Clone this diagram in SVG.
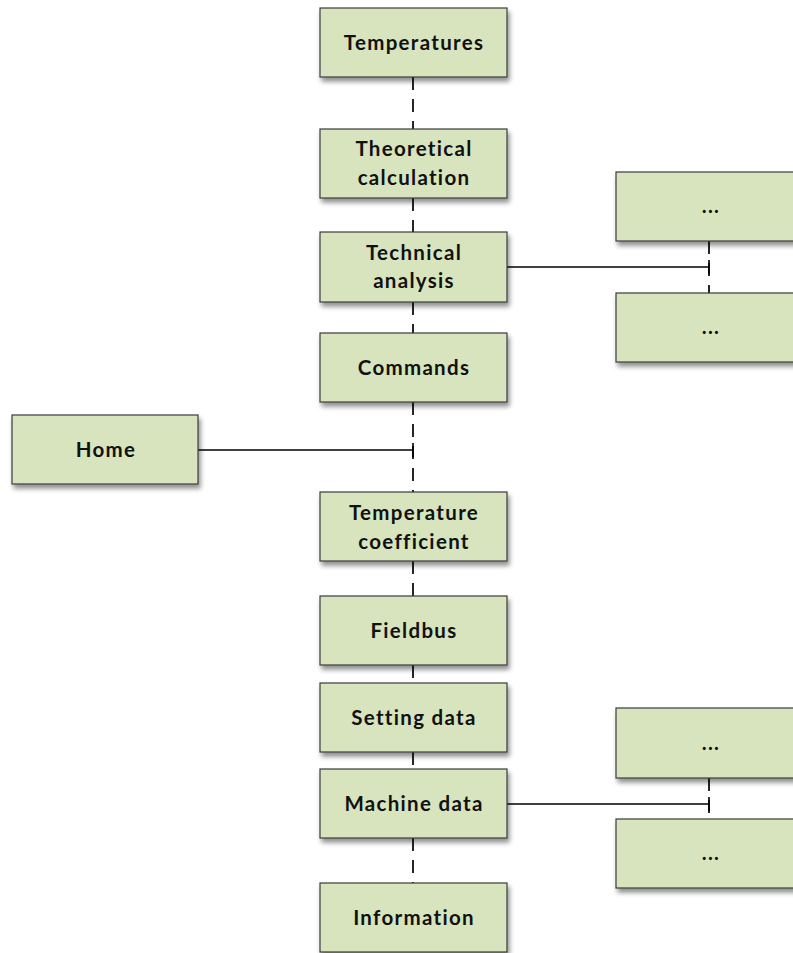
<svg xmlns="http://www.w3.org/2000/svg" width="793" height="953" viewBox="0 0 793 953">
<defs>
<filter id="sh" x="-10%" y="-20%" width="125%" height="160%">
<feGaussianBlur in="SourceAlpha" stdDeviation="2.5"/>
<feOffset dx="2" dy="4" result="b"/>
<feComponentTransfer><feFuncA type="linear" slope="0.45"/></feComponentTransfer>
<feMerge><feMergeNode/><feMergeNode in="SourceGraphic"/></feMerge>
</filter>
<style>
.box{fill:#d7e4bd;stroke:#3b3b3b;stroke-width:1.2;filter:url(#sh)}
.t{font-family:Lato,"Open Sans","Liberation Sans",sans-serif;font-weight:700;font-size:20.5px;letter-spacing:1.3px;fill:#111;text-anchor:middle}
.dash{stroke:#000;stroke-width:1.7;fill:none;stroke-dasharray:13 9}
.solid{stroke:#000;stroke-width:1.6;fill:none}
</style>
</defs>
<rect width="793" height="953" fill="#fff"/>
<g id="connectors">
<line class="dash" x1="413" y1="77" x2="413" y2="129"/>
<line class="dash" x1="413" y1="198" x2="413" y2="232"/>
<line class="dash" x1="413" y1="302" x2="413" y2="333"/>
<line class="dash" x1="413" y1="402" x2="413" y2="492"/>
<line class="dash" x1="413" y1="561" x2="413" y2="596"/>
<line class="dash" x1="413" y1="665" x2="413" y2="683"/>
<line class="dash" x1="413" y1="752" x2="413" y2="769"/>
<line class="dash" x1="413" y1="838" x2="413" y2="883"/>
<line class="solid" x1="198" y1="450" x2="413" y2="450"/>
<line class="solid" x1="413" y1="443" x2="413" y2="457"/>
<line class="solid" x1="507" y1="267" x2="709" y2="267"/>
<line class="solid" x1="709" y1="260" x2="709" y2="274"/>
<line class="dash" x1="709" y1="241" x2="709" y2="293"/>
<line class="solid" x1="507" y1="804" x2="709" y2="804"/>
<line class="solid" x1="709" y1="797" x2="709" y2="811"/>
<line class="dash" x1="709" y1="778" x2="709" y2="819"/>
</g>
<g id="n-temperatures"><rect class="box" x="320" y="8" width="187" height="69"/><text class="t" x="414" y="50">Temperatures</text></g>
<g id="n-theoretical"><rect class="box" x="320" y="129" width="187" height="69"/><text class="t" x="414" y="156">Theoretical</text><text class="t" x="414" y="185">calculation</text></g>
<g id="n-technical"><rect class="box" x="320" y="232" width="187" height="70"/><text class="t" x="414" y="260">Technical</text><text class="t" x="414" y="288">analysis</text></g>
<g id="n-commands"><rect class="box" x="320" y="333" width="187" height="69"/><text class="t" x="414" y="375">Commands</text></g>
<g id="n-home"><rect class="box" x="12" y="415" width="186" height="69"/><text class="t" x="106" y="457">Home</text></g>
<g id="n-tempcoef"><rect class="box" x="320" y="492" width="187" height="69"/><text class="t" x="414" y="520">Temperature</text><text class="t" x="414" y="549">coefficient</text></g>
<g id="n-fieldbus"><rect class="box" x="320" y="596" width="187" height="69"/><text class="t" x="414" y="638">Fieldbus</text></g>
<g id="n-setting"><rect class="box" x="320" y="683" width="187" height="69"/><text class="t" x="414" y="725">Setting data</text></g>
<g id="n-machine"><rect class="box" x="320" y="769" width="187" height="69"/><text class="t" x="414" y="811">Machine data</text></g>
<g id="n-information"><rect class="box" x="320" y="883" width="187" height="69"/><text class="t" x="414" y="925">Information</text></g>
<g id="n-r1"><rect class="box" x="616" y="172" width="187" height="69"/><text class="t" x="711" y="213">...</text></g>
<g id="n-r2"><rect class="box" x="616" y="293" width="187" height="69"/><text class="t" x="711" y="334">...</text></g>
<g id="n-r3"><rect class="box" x="616" y="708" width="187" height="70"/><text class="t" x="711" y="750">...</text></g>
<g id="n-r4"><rect class="box" x="616" y="819" width="187" height="69"/><text class="t" x="711" y="860">...</text></g>
</svg>
